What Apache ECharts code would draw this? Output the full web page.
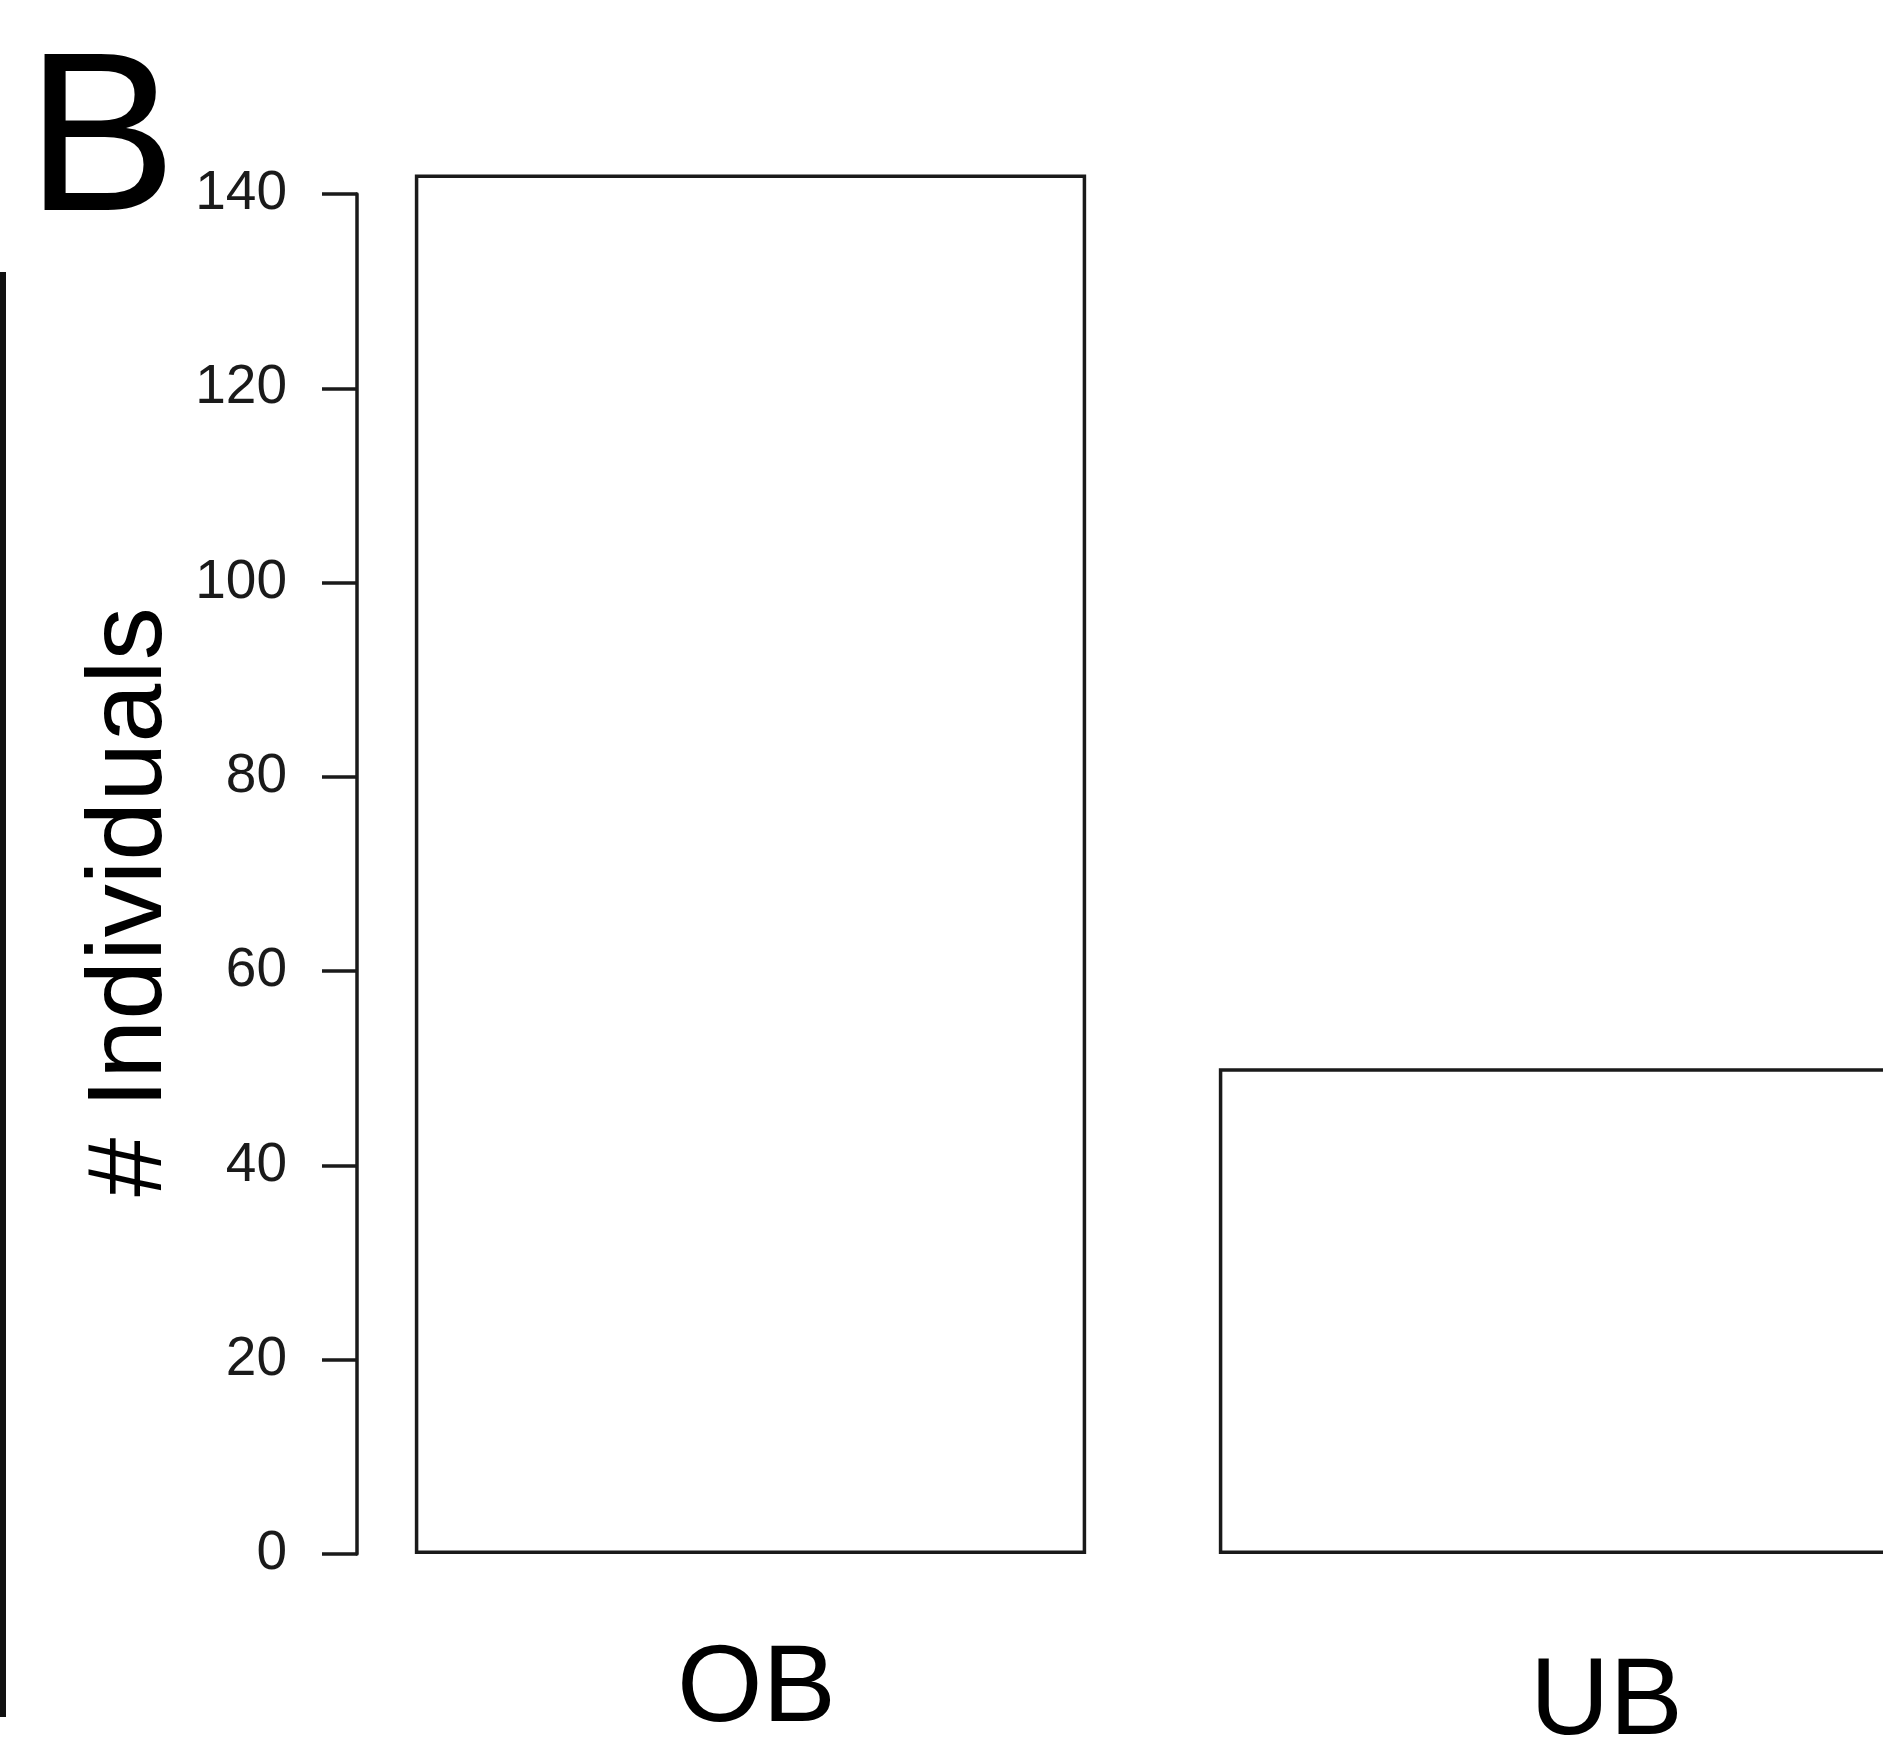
<!DOCTYPE html>
<html>
<head>
<meta charset="utf-8">
<title>B - # Individuals</title>
<script src="https://cdn.jsdelivr.net/npm/echarts@6/dist/echarts.min.js"></script>
<style>
  html, body { margin: 0; padding: 0; background: #fff; }
  #chart { width: 1883px; height: 1745px; }
</style>
</head>
<body>
<div id="chart"></div>
<script>
// data
const categories = ['OB', 'UB']
const counts = [142, 50]
const yTicks = [0, 20, 40, 60, 80, 100, 120, 140]

const font = "'Liberation Sans', Arial, Helvetica, sans-serif"
const ink = '#1a1a1a'

const chart = echarts.init(document.getElementById('chart'), null, { renderer: 'canvas' })

const option = {
  backgroundColor: '#fff',
  animation: false,
  grid: {
    // plot runs past the right edge, the panel is cropped there
    left: 348.5,
    width: 1608,
    top: 194,
    height: 1360,
    containLabel: false,
    outerBoundsMode: 'none'
  },
  xAxis: {
    type: 'category',
    data: [
      { value: categories[0], textStyle: { padding: [0, 0, 0, 12] } },
      { value: categories[1], textStyle: { padding: [13, 0, 0, 104] } }
    ],
    axisLine: { show: false },
    axisTick: { show: false },
    axisLabel: {
      fontFamily: font,
      fontSize: 110,
      color: '#000',
      margin: 82
    }
  },
  yAxis: {
    type: 'value',
    min: yTicks[0],
    max: yTicks[yTicks.length - 1],
    interval: 20,
    offset: -8.5,
    name: '# Individuals',
    nameLocation: 'middle',
    nameGap: 150,
    nameTextStyle: {
      fontFamily: font,
      fontSize: 106,
      color: '#000',
      padding: [0, 56, 0, 0]
    },
    splitLine: { show: false },
    axisLine: { show: true, lineStyle: { color: ink, width: 3.5 } },
    axisTick: { show: true, length: 35, lineStyle: { color: ink, width: 3.5 } },
    axisLabel: {
      fontFamily: font,
      fontSize: 55,
      color: ink,
      margin: 70
    }
  },
  series: [{
    type: 'bar',
    data: counts,
    barCategoryGap: '16.5%',
    clip: false,
    itemStyle: {
      color: '#fff',
      borderColor: ink,
      borderWidth: 3.5
    }
  }],
  graphic: [
    {
      type: 'text',
      left: 26,
      top: 35,
      style: {
        text: 'B',
        font: '226px ' + font,
        fill: '#000'
      }
    },
    {
      // edge of the neighbouring panel
      type: 'rect',
      shape: { x: 0, y: 272, width: 6, height: 1445 },
      style: { fill: '#111' }
    }
  ]
}

chart.setOption(option)
</script>
</body>
</html>
